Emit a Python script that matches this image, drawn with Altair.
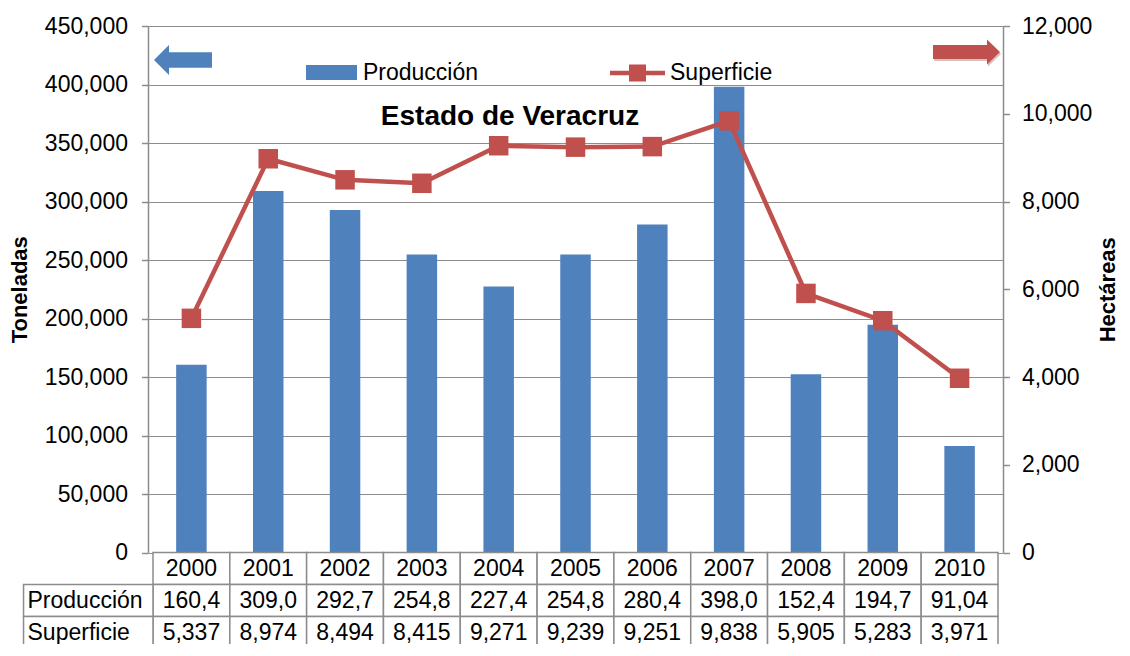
import altair as alt
import pandas as pd

# ---- data ----
years = [2000, 2001, 2002, 2003, 2004, 2005, 2006, 2007, 2008, 2009, 2010]
produccion = [160400, 309000, 292700, 254800, 227400, 254800, 280400, 398000, 152400, 194700, 91040]
superficie = [5337, 8974, 8494, 8415, 9271, 9239, 9251, 9838, 5905, 5283, 3971]
prod_labels = ["160,4", "309,0", "292,7", "254,8", "227,4", "254,8", "280,4", "398,0", "152,4", "194,7", "91,04"]
sup_labels = ["5,337", "8,974", "8,494", "8,415", "9,271", "9,239", "9,251", "9,838", "5,905", "5,283", "3,971"]
row_names = ["Producción", "Superficie"]
prod_ticks = list(range(0, 450001, 50000))
sup_ticks = list(range(0, 12001, 2000))

# ---- style ----
FONT = "Liberation Sans"
BLUE = "#4F81BD"
RED = "#C0504D"
GRID = "#8C8C8C"
W = 855
PLOT_H = 526.5
ROW_H = 32
TABLE_END = PLOT_H + 3 * ROW_H
VIEW_H = 618          # visible height below the plot top (table bottom border cropped, as in the source)
XDOM = [years[0] - 0.5, years[-1] + 0.5]
COL_W = W / len(years)
LABEL_LEFT = XDOM[0] - 131 / COL_W

xscale = alt.Scale(domain=XDOM, nice=False, zero=False)
xenc = alt.X("year:Q", scale=xscale, axis=None)

main_df = pd.DataFrame({"year": years, "prod": produccion, "sup": superficie})

bars = alt.Chart(main_df).mark_bar(size=30.5, color=BLUE).encode(
    x=xenc,
    y=alt.Y("prod:Q",
            scale=alt.Scale(domain=[0, 450000], range=[PLOT_H, 0], nice=False, zero=True),
            axis=alt.Axis(orient="left", values=prod_ticks, format=",d", title="Toneladas",
                          grid=True, titlePadding=13, labelPadding=14)),
)

line = alt.Chart(main_df).mark_line(
    color=RED, strokeWidth=4.5,
    point=alt.OverlayMarkDef(shape="square", size=380, filled=True, color=RED, opacity=1),
).encode(
    x=xenc,
    y=alt.Y("sup:Q",
            scale=alt.Scale(domain=[0, 12000], range=[PLOT_H, 0], nice=False, zero=True),
            axis=alt.Axis(orient="right", values=sup_ticks, format=",d", title="Hectáreas",
                          grid=False, titleAngle=270, titlePadding=28, labelPadding=12)),
)

# ---- data table under the plot ----
cell_rows = []
for i, yv in enumerate(years):
    cell_rows.append({"x0": yv - 0.5, "x1": yv + 0.5, "xc": yv, "r0": 0, "text": str(yv), "al": "c"})
    cell_rows.append({"x0": yv - 0.5, "x1": yv + 0.5, "xc": yv, "r0": 1, "text": prod_labels[i], "al": "c"})
    cell_rows.append({"x0": yv - 0.5, "x1": yv + 0.5, "xc": yv, "r0": 2, "text": sup_labels[i], "al": "c"})
for j, name in enumerate(row_names):
    cell_rows.append({"x0": LABEL_LEFT, "x1": XDOM[0], "xc": LABEL_LEFT, "r0": j + 1, "text": name, "al": "l"})
table_df = pd.DataFrame(cell_rows)

tscale = alt.Scale(domain=[0, 3], range=[PLOT_H, TABLE_END], nice=False, zero=False)
tbase = alt.Chart(table_df).transform_calculate(r1="datum.r0 + 1", rm="datum.r0 + 0.5")

table_rects = tbase.mark_rect(fill="white", stroke=GRID, strokeWidth=1.5).encode(
    x=alt.X("x0:Q", scale=xscale, axis=None),
    x2="x1:Q",
    y=alt.Y("r0:Q", scale=tscale, axis=None),
    y2="r1:Q",
)
table_text = tbase.transform_filter("datum.al == 'c'").mark_text(
    font=FONT, fontSize=23, color="black", align="center", baseline="middle"
).encode(
    x=alt.X("xc:Q", scale=xscale, axis=None),
    y=alt.Y("rm:Q", scale=tscale, axis=None),
    text="text:N",
)
table_labels = tbase.transform_filter("datum.al == 'l'").mark_text(
    font=FONT, fontSize=23, color="black", align="left", baseline="middle", dx=4
).encode(
    x=alt.X("xc:Q", scale=xscale, axis=None),
    y=alt.Y("rm:Q", scale=tscale, axis=None),
    text="text:N",
)

# ---- annotations: title, legend, arrows ----
one = pd.DataFrame({"k": [0]})
title = alt.Chart(one).mark_text(
    font=FONT, fontSize=28, fontWeight="bold", color="black", align="center", baseline="middle"
).encode(x=alt.value(362), y=alt.value(91), text=alt.value("Estado de Veracruz"))

leg_rect = alt.Chart(one).mark_rect(color=BLUE).encode(
    x=alt.value(158), x2=alt.value(209), y=alt.value(39), y2=alt.value(54))
leg_txt1 = alt.Chart(one).mark_text(
    font=FONT, fontSize=23, color="black", align="left", baseline="middle"
).encode(x=alt.value(215), y=alt.value(47), text=alt.value("Producción"))
leg_line = alt.Chart(one).mark_rule(color=RED, strokeWidth=4.5).encode(
    x=alt.value(462), x2=alt.value(517), y=alt.value(47))
leg_sq = alt.Chart(one).mark_point(shape="square", filled=True, size=290, color=RED, opacity=1).encode(
    x=alt.value(489.5), y=alt.value(47))
leg_txt2 = alt.Chart(one).mark_text(
    font=FONT, fontSize=23, color="black", align="left", baseline="middle"
).encode(x=alt.value(522), y=alt.value(47), text=alt.value("Superficie"))

left_arrow_path = "M-1,0 L-0.483,-0.517 L-0.483,-0.27 L1,-0.27 L1,0.27 L-0.483,0.27 L-0.483,0.517 Z"
right_arrow_path = "M1,0 L0.612,-0.373 L0.612,-0.209 L-1,-0.209 L-1,0.209 L0.612,0.209 L0.612,0.373 Z"
arrow_l = alt.Chart(one).mark_point(shape=left_arrow_path, filled=True, size=3364, color=BLUE,
                                    opacity=1, strokeWidth=0).encode(x=alt.value(35), y=alt.value(34))
arrow_r_shadow = alt.Chart(one).mark_point(shape=right_arrow_path, filled=True, size=4489, color="#7a2f2d",
                                           opacity=0.3, strokeWidth=0).encode(x=alt.value(819.5), y=alt.value(28))
arrow_r = alt.Chart(one).mark_point(shape=right_arrow_path, filled=True, size=4489, color=RED,
                                    opacity=1, strokeWidth=0).encode(x=alt.value(818.5), y=alt.value(26))

chart = alt.layer(
    bars, line, table_rects, table_text, table_labels,
    title, leg_rect, leg_txt1, leg_line, leg_sq, leg_txt2, arrow_l, arrow_r_shadow, arrow_r,
).resolve_scale(y="independent").properties(
    width=W, height=VIEW_H,
    autosize=alt.AutoSizeParams(type="none"),
    padding={"left": 140, "top": 18, "right": 119, "bottom": 0},
).configure_axis(
    labelFont=FONT, labelFontSize=23, labelColor="black",
    titleFont=FONT, titleFontSize=22, titleFontWeight="bold", titleColor="black",
    domainColor=GRID, domainWidth=1.5, tickColor=GRID, tickWidth=1.5, tickSize=6.5,
    gridColor=GRID, gridWidth=1.2, gridOpacity=1,
).configure_view(stroke=None)

chart.save("out.html", embed_options={"renderer": "svg", "actions": False})
